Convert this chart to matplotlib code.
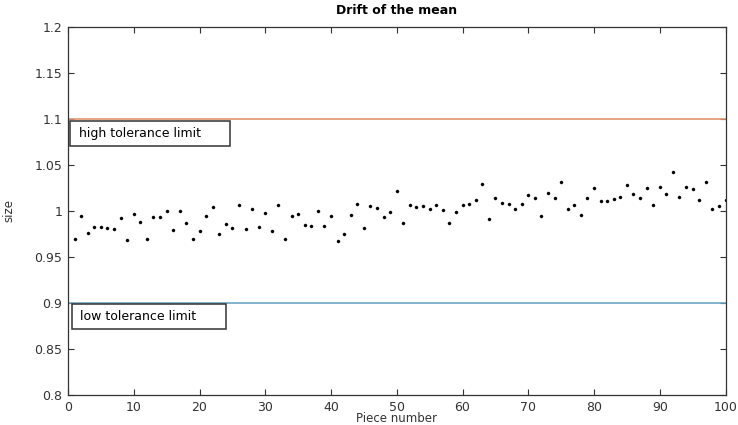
import matplotlib
matplotlib.use("Agg")
import matplotlib.pyplot as plt
from matplotlib.patches import Rectangle

plt.rcParams['font.family'] = ['DejaVu Sans']

piece = list(range(1, 101))
size = [0.970, 0.995, 0.976, 0.983, 0.983, 0.982, 0.980, 0.992, 0.968, 0.997,
        0.988, 0.970, 0.993, 0.994, 1.000, 0.979, 1.000, 0.987, 0.970, 0.978,
        0.995, 1.004, 0.975, 0.986, 0.981, 1.007, 0.980, 1.002, 0.983, 0.998,
        0.978, 1.006, 0.970, 0.995, 0.997, 0.985, 0.984, 1.000, 0.984, 0.995,
        0.967, 0.975, 0.996, 1.008, 0.981, 1.005, 1.003, 0.993, 0.999, 1.022,
        0.987, 1.006, 1.004, 1.005, 1.002, 1.006, 1.001, 0.987, 0.999, 1.007,
        1.008, 1.012, 1.029, 0.991, 1.014, 1.009, 1.008, 1.002, 1.008, 1.017,
        1.014, 0.995, 1.020, 1.014, 1.031, 1.002, 1.007, 0.996, 1.014, 1.025,
        1.011, 1.011, 1.013, 1.015, 1.028, 1.018, 1.014, 1.025, 1.006, 1.026,
        1.018, 1.042, 1.015, 1.026, 1.024, 1.012, 1.032, 1.002, 1.005, 1.012]
high_limit = 1.1
low_limit = 0.9
x_ticks = [0, 10, 20, 30, 40, 50, 60, 70, 80, 90, 100]
y_ticks = [0.8, 0.85, 0.9, 0.95, 1.0, 1.05, 1.1, 1.15, 1.2]
y_ticklabels = ['0.8', '0.85', '0.9', '0.95', '1', '1.05', '1.1', '1.15', '1.2']

W, H = 738, 425
fig = plt.figure(figsize=(W / 100, H / 100), dpi=100)
left, right, top, bottom = 68, 725.5, 27, 395
ax = fig.add_axes([left / W, 1 - bottom / H, (right - left) / W, (bottom - top) / H])

axcol = '#333333'
ax.plot([0, 100], [high_limit, high_limit], color='#E0966C', lw=1.2)
ax.plot([0, 100], [low_limit, low_limit], color='#6FA6C4', lw=1.2)
ax.plot(piece, size, linestyle='none', marker='o', markersize=2.2,
        markerfacecolor='black', markeredgecolor='black', markeredgewidth=0.3)

ax.set_xlim(0, 100)
ax.set_ylim(0.8, 1.2)
ax.set_xticks(x_ticks)
ax.set_yticks(y_ticks)
ax.set_yticklabels(y_ticklabels)
ax.tick_params(direction='in', top=True, right=True, length=4, width=0.8,
               colors=axcol, labelsize=9, pad=4)
for s in ax.spines.values():
    s.set_color(axcol)
    s.set_linewidth(0.9)

ax.set_title('Drift of the mean', fontsize=9, fontweight='bold', color='black', pad=9)
ax.set_xlabel('Piece number', fontsize=8.5, color=axcol, labelpad=-1)
ax.set_ylabel('size', fontsize=8.5, color=axcol, labelpad=14)

# annotation boxes
ax.add_patch(Rectangle((0.3, 1.0705), 24.3, 0.0275, fill=False, edgecolor='#333333', lw=1.1, zorder=5))
ax.text(1.6, 1.084, 'high tolerance limit', fontsize=9, va='center', ha='left', color='black')
ax.add_patch(Rectangle((0.6, 0.8715), 23.4, 0.0275, fill=False, edgecolor='#333333', lw=1.1, zorder=5))
ax.text(1.9, 0.885, 'low tolerance limit', fontsize=9, va='center', ha='left', color='black')

fig.savefig('out.png', dpi=100)
